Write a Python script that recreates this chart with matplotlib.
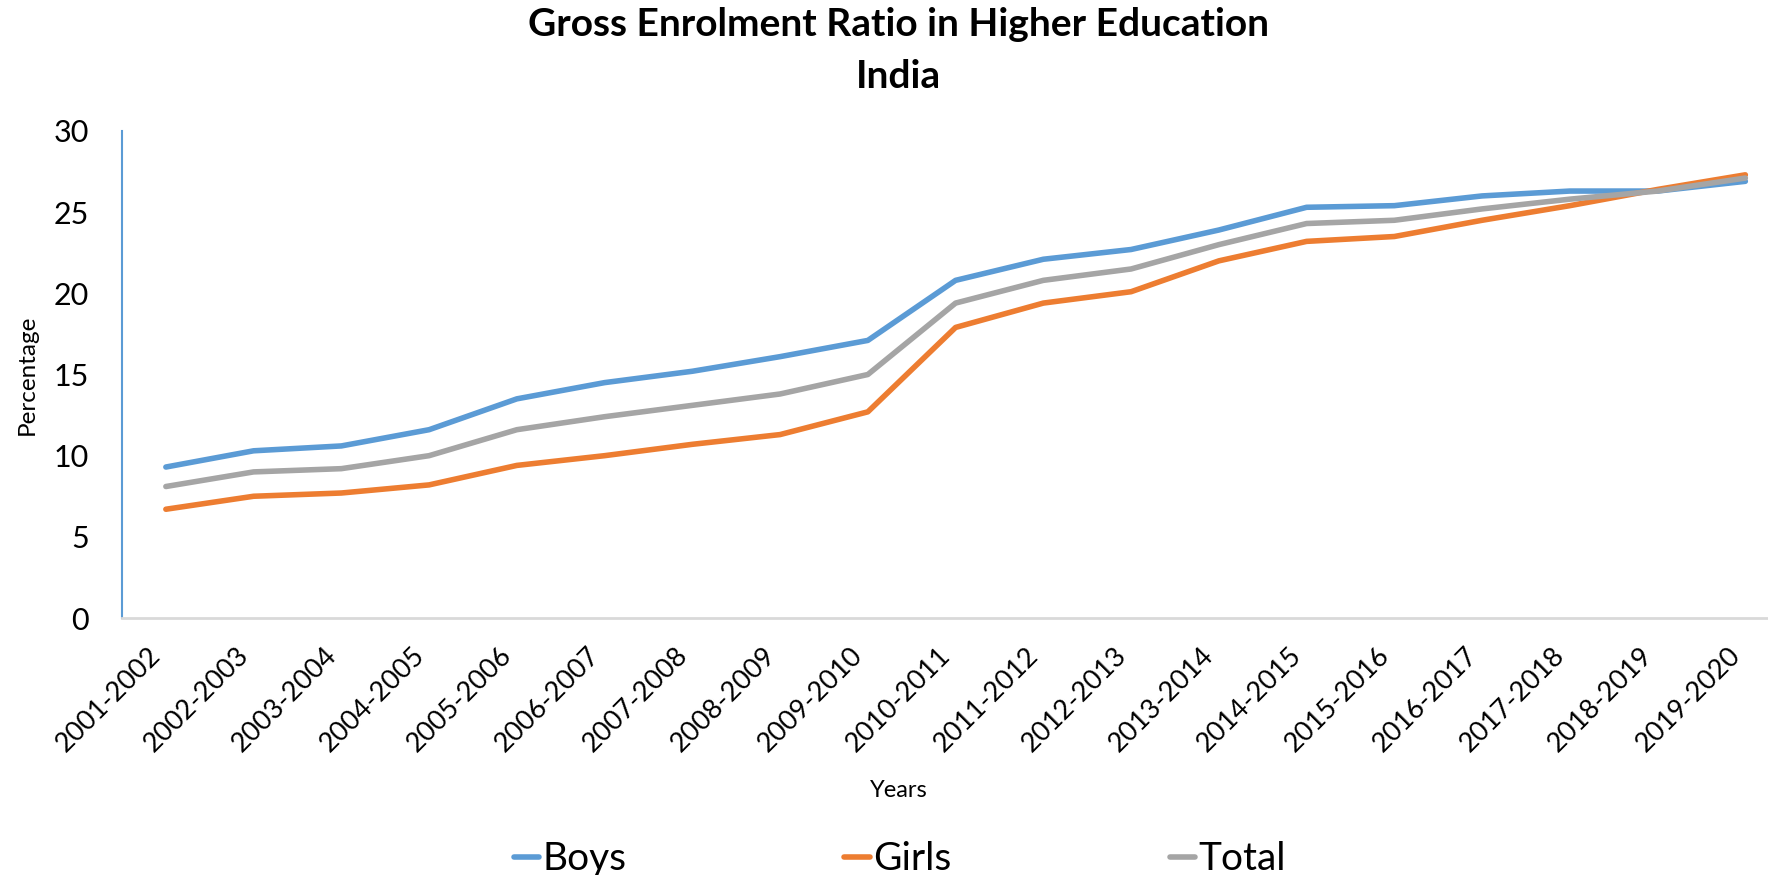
import matplotlib
matplotlib.use("Agg")
import matplotlib.pyplot as plt

plt.rcParams['font.family'] = ['Lato', 'DejaVu Sans']

years = ['2001-2002', '2002-2003', '2003-2004', '2004-2005', '2005-2006',
         '2006-2007', '2007-2008', '2008-2009', '2009-2010', '2010-2011',
         '2011-2012', '2012-2013', '2013-2014', '2014-2015', '2015-2016',
         '2016-2017', '2017-2018', '2018-2019', '2019-2020']

boys = [9.3, 10.3, 10.6, 11.6, 13.5, 14.5, 15.2, 16.1, 17.1, 20.8,
        22.1, 22.7, 23.9, 25.3, 25.4, 26.0, 26.3, 26.3, 26.9]
girls = [6.7, 7.5, 7.7, 8.2, 9.4, 10.0, 10.7, 11.3, 12.7, 17.9,
         19.4, 20.1, 22.0, 23.2, 23.5, 24.5, 25.4, 26.4, 27.3]
total = [8.1, 9.0, 9.2, 10.0, 11.6, 12.4, 13.1, 13.8, 15.0, 19.4,
         20.8, 21.5, 23.0, 24.3, 24.5, 25.2, 25.8, 26.3, 27.1]

fig = plt.figure(figsize=(17.68, 8.75), dpi=100)
ax = fig.add_axes([0.069, 0.2937, 0.943, 0.5566])

x = range(len(years))
ax.plot(x, boys, color='#5B9BD5', lw=4, label='Boys', solid_capstyle='round')
ax.plot(x, girls, color='#ED7D31', lw=4, label='Girls', solid_capstyle='round')
ax.plot(x, total, color='#A5A5A5', lw=4, label='Total', solid_capstyle='round')

ax.set_xlim(-0.5, len(years) - 0.5)
ax.set_ylim(0, 30)
ax.set_yticks([0, 5, 10, 15, 20, 25, 30])
ax.set_xticks(list(x))
ax.set_xticklabels(years, rotation=45, ha='right')
ax.tick_params(axis='y', length=0, pad=24, labelsize=22)
ax.tick_params(axis='x', length=0, pad=18, labelsize=19.5)

for s in ['top', 'right']:
    ax.spines[s].set_visible(False)
ax.spines['left'].set_color('#5B9BD5')
ax.spines['left'].set_linewidth(1.5)
ax.spines['bottom'].set_color('#D9D9D9')
ax.spines['bottom'].set_linewidth(2)

ax.set_ylabel('Percentage', fontsize=17.5, va='center')
ax.yaxis.set_label_coords(-0.057, 0.5)
ax.set_xlabel('Years', fontsize=17, va='center')
ax.xaxis.set_label_coords(0.466, -0.355)

fig.text(0.508, 0.972, 'Gross Enrolment Ratio in Higher Education',
         ha='center', va='center', fontsize=28, fontweight='bold')
fig.text(0.508, 0.912, 'India', ha='center', va='center',
         fontsize=28, fontweight='bold')

fig.legend(loc='center', bbox_to_anchor=(0.509, 0.018), ncol=3, frameon=False,
           fontsize=28, handlelength=0.65, handletextpad=0.1, columnspacing=5.6)

fig.savefig('out.png', dpi=100)
